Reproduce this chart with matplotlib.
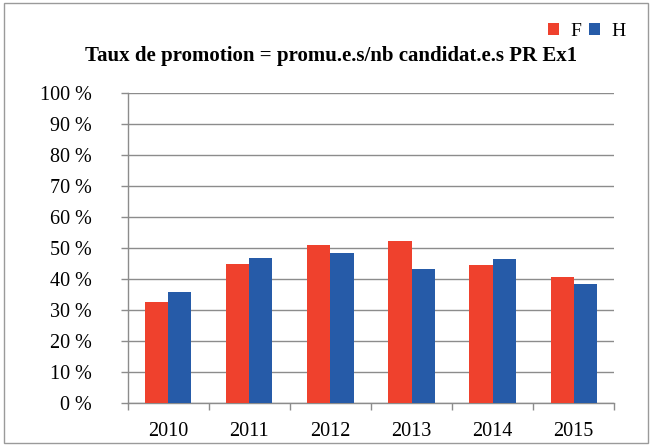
import numpy as np
import matplotlib.pyplot as plt
from matplotlib.patches import Rectangle

years = ["2010", "2011", "2012", "2013", "2014", "2015"]
femmes = [32.6, 45.0, 51.2, 52.4, 44.5, 40.6]
hommes = [36.0, 46.9, 48.6, 43.3, 46.6, 38.5]
yticks = list(range(0, 101, 10))

red = "#EF412D"
blue = "#265BA8"
grey = "#8C8C8C"

plt.rcParams['font.family'] = ['Liberation Serif', 'DejaVu Serif']

fig = plt.figure(figsize=(6.52, 4.46), dpi=100)
ax = fig.add_axes([0.196, 0.0953, 0.746, 0.696])

x = np.arange(len(years))
w = 0.285
ax.bar(x - w / 2, femmes, w, color=red, label="F", zorder=3)
ax.bar(x + w / 2, hommes, w, color=blue, label="H", zorder=3)

ax.set_xlim(-0.5, len(years) - 0.5)
ax.set_ylim(0, 100)
ax.set_yticks(yticks)
ax.set_yticklabels([f"{v} %" for v in yticks], fontsize=14.5)
ax.set_xticks(x)
ax.set_xticklabels(years, fontsize=14.5)
ax.set_xticks(np.arange(len(years) + 1) - 0.5, minor=True)
ax.tick_params(axis="x", which="major", length=0, pad=13)
ax.tick_params(axis="x", which="minor", length=5, color=grey, width=1)
ax.tick_params(axis="y", length=5, color=grey, width=1, pad=21)
ax.yaxis.grid(True, color=grey, linewidth=1, zorder=0)
for s in ["top", "right"]:
    ax.spines[s].set_visible(False)
for s in ["left", "bottom"]:
    ax.spines[s].set_color(grey)
    ax.spines[s].set_linewidth(1)

fig.text(0.507, 0.874, "Taux de promotion = promu.e.s/nb candidat.e.s PR Ex1",
         ha="center", va="center", fontsize=15, fontweight="bold")
ax.legend(loc="center", bbox_to_anchor=(0.9, 0.93), bbox_transform=fig.transFigure,
          ncol=2, frameon=False, fontsize=14, handlelength=0.55, handleheight=0.55,
          handletextpad=0.6, columnspacing=0.4)

fig.patches.append(Rectangle((0.006, 0.006), 0.988, 0.988, transform=fig.transFigure,
                             fill=False, edgecolor="#9A9A9A", linewidth=1))

fig.savefig("out.png", dpi=100)
